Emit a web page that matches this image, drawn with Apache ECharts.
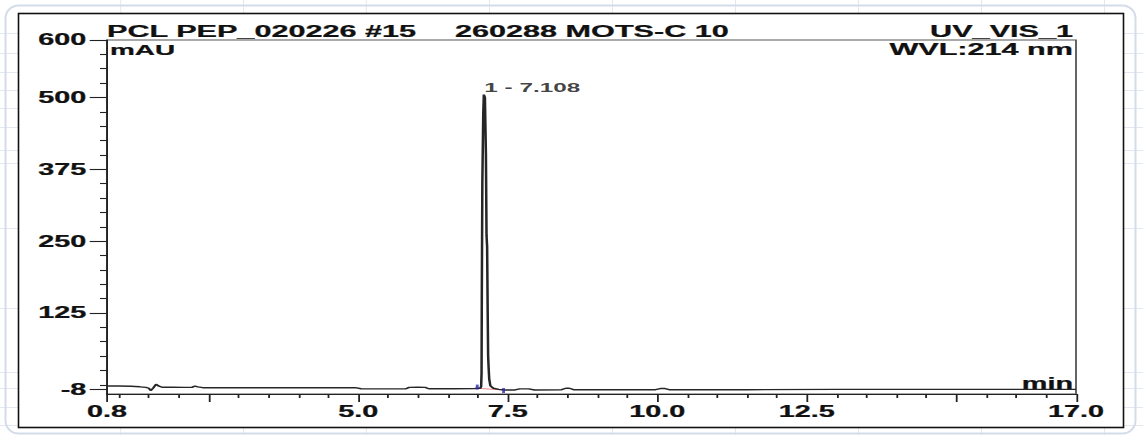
<!DOCTYPE html>
<html>
<head>
<meta charset="utf-8">
<script src="https://cdn.jsdelivr.net/npm/echarts@6/dist/echarts.min.js"></script>
<style>
  html, body { margin: 0; padding: 0; background: #ffffff; }
  #wrap { position: relative; width: 1143px; height: 435px; overflow: hidden; }
  #bg { position: absolute; left: 0; top: 0; }
  #chart { position: absolute; left: 0; top: 0; width: 635px; height: 435px; transform: scaleX(1.8); transform-origin: 0 0; }
</style>
</head>
<body>
<div id="wrap">
<svg id="bg" width="1143" height="435"></svg>
<div id="chart"></div>
</div>
<script>
// ---- data ----
const titleLeft = 'PCL PEP_020226 #15';
const titleMid = '260288 MOTS-C 10';
const titleRight = 'UV_VIS_1';
const wavelengthText = 'WVL:214 nm';
const yUnit = 'mAU';
const xUnit = 'min';

const xMin = 0.8, xMax = 17.0;
const yMin = -16, yMax = 600;
const xMajorTicks = [0.8, 2.5, 5.0, 7.5, 10.0, 12.5, 15.0, 17.0];
const xLabelValues = [0.8, 5.0, 7.5, 10.0, 12.5, 17.0];
const xMinorTicks = [1.0, 1.5, 2.0, 3.0, 3.5, 4.0, 4.5, 5.5, 6.0, 6.5, 7.0, 8.0, 8.5, 9.0, 9.5,
                     10.5, 11.0, 11.5, 12.0, 13.0, 13.5, 14.0, 14.5, 15.5, 16.0, 16.5];
const yLabelValues = [-8, 125, 250, 375, 500, 600];
const yMinorTicks = [0, 25, 50, 75, 100, 150, 175, 200, 225, 275, 300, 325, 350,
                     400, 425, 450, 475, 525, 550, 575];

// chromatogram trace: [time (min), signal (mAU)]
const trace = [
  [0.80, -2], [1.00, -2.2], [1.20, -2.5], [1.35, -3.5], [1.45, -4.5], [1.50, -6],
  [1.53, -10], [1.57, -6], [1.62, 1], [1.66, -2], [1.72, -4.3], [1.90, -4.3],
  [2.10, -4.5], [2.22, -4.5], [2.27, -2.2], [2.32, -3.5], [2.40, -5], [3.00, -5],
  [4.00, -5], [4.95, -5], [5.05, -6.8], [5.50, -7], [5.80, -7], [5.85, -4.5],
  [6.00, -4.3], [6.12, -4.5], [6.18, -6.8], [6.60, -6.8], [6.95, -6.5], [7.00, -6],
  [7.040, -6], [7.055, -3], [7.062, 20], [7.066, 150], [7.075, 350], [7.090, 470],
  [7.100, 505], [7.118, 500], [7.135, 400], [7.145, 260], [7.155, 240], [7.165, 120],
  [7.172, 50], [7.180, 30], [7.190, 10], [7.210, -2], [7.260, -6], [7.35, -8],
  [7.45, -9], [7.62, -9], [7.70, -7], [7.85, -7], [7.95, -9], [8.40, -8.5],
  [8.47, -6], [8.53, -6], [8.60, -8.5], [9.20, -8.5], [9.97, -8.5], [10.05, -6.5],
  [10.13, -6.5], [10.20, -8.5], [11.50, -8.5], [13.00, -8], [15.00, -8], [17.00, -8]
];

// peak annotation and integration baseline
const peakPoint = [7.108, 505];
const peakLabel = '1 - 7.108';
const integrationBaseline = [[6.99, -6], [7.43, -9]];
const integrationMarkers = [[6.99, -4], [7.43, -10]];

// ---- background page (decorative, not data) ----
(function drawBackground() {
  const ns = 'http://www.w3.org/2000/svg';
  const svg = document.getElementById('bg');
  const gridX = [120.7, 243.5, 366.3, 489.5, 612.5, 735.5, 858.5, 981.5, 1104.5];
  const gridY = [33, 53, 72, 90, 108, 127, 150, 163, 228, 308, 372, 388, 407, 425];
  function el(name, attrs) {
    const e = document.createElementNS(ns, name);
    for (const k in attrs) e.setAttribute(k, attrs[k]);
    svg.appendChild(e);
    return e;
  }
  gridX.forEach(x => el('line', {x1: x, y1: 0, x2: x, y2: 435, stroke: '#e3e8f0', 'stroke-width': 1}));
  gridY.forEach(y => el('line', {x1: 0, y1: y + 0.5, x2: 1143, y2: y + 0.5, stroke: '#e3e8f0', 'stroke-width': 1}));
  el('rect', {x: 5.5, y: 5.5, width: 1130, height: 428, rx: 13, ry: 13, fill: 'none', stroke: '#d4dcea', 'stroke-width': 2});
  el('rect', {x: 18.5, y: 13.5, width: 1105, height: 414, fill: '#ffffff', stroke: '#111111', 'stroke-width': 1.6});
})();

// ---- chart ----
const SX = 1.8; // horizontal stretch of the reference
const FONT = 'Liberation Sans';
const INK = '#111111';
const chart = echarts.init(document.getElementById('chart'), null, {renderer: 'svg'});

const gridBox = {left: 107 / SX, right: 635 - 1076 / SX, top: 40, bottom: 41};
const labelFont = {fontFamily: FONT, fontWeight: 'bold', color: INK, textBorderColor: INK, textBorderWidth: 0.25};
const textStyle = (text, size, align) => ({
  text: text, fontSize: size, fontFamily: FONT, fontWeight: 'bold', align: align,
  verticalAlign: 'middle', fill: INK, stroke: INK, lineWidth: 0.25
});

const option = {
  animation: false,
  grid: [
    Object.assign({show: true, borderColor: '#555555', borderWidth: 1, backgroundColor: 'transparent'}, gridBox),
    Object.assign({show: false}, gridBox)
  ],
  xAxis: [
    {
      gridIndex: 0, type: 'value', min: xMin, max: xMax,
      axisLine: {show: true, onZero: false, lineStyle: {color: '#222222', width: 1.2}},
      axisTick: {show: true, customValues: xMajorTicks, length: 8, lineStyle: {color: '#222222', width: 1}},
      axisLabel: Object.assign({customValues: xLabelValues, formatter: v => Number(v).toFixed(1), margin: 10, fontSize: 16}, labelFont),
      splitLine: {show: false}
    },
    {
      gridIndex: 1, type: 'value', min: xMin, max: xMax,
      axisLine: {show: false, onZero: false},
      axisTick: {show: true, customValues: xMinorTicks, length: 4, lineStyle: {color: '#222222', width: 1}},
      axisLabel: {show: false},
      splitLine: {show: false}
    }
  ],
  yAxis: [
    {
      gridIndex: 0, type: 'value', min: yMin, max: yMax, position: 'left',
      axisLine: {show: true, onZero: false, lineStyle: {color: '#222222', width: 1}},
      axisTick: {show: true, customValues: yLabelValues, length: 9.6, lineStyle: {color: '#222222', width: 1.1}},
      axisLabel: Object.assign({customValues: yLabelValues, formatter: v => String(v), margin: 11.5, fontSize: 16}, labelFont),
      splitLine: {show: false}
    },
    {
      gridIndex: 1, type: 'value', min: yMin, max: yMax, position: 'left',
      axisLine: {show: false, onZero: false},
      axisTick: {show: true, customValues: yMinorTicks, length: 3.9, lineStyle: {color: '#222222', width: 1.1}},
      axisLabel: {show: false},
      splitLine: {show: false}
    }
  ],
  graphic: [
    {type: 'text', x: 107 / SX, y: 31, silent: true, style: textStyle(titleLeft, 17, 'left')},
    {type: 'text', x: 455 / SX, y: 31, silent: true, style: textStyle(titleMid, 17, 'left')},
    {type: 'text', x: 1073 / SX, y: 31, silent: true, style: textStyle(titleRight, 17, 'right')},
    {type: 'text', x: 1073 / SX, y: 49, silent: true, style: textStyle(wavelengthText, 17, 'right')},
    {type: 'text', x: 110 / SX, y: 49.5, silent: true, style: textStyle(yUnit, 15.5, 'left')},
    {type: 'text', x: 1073 / SX, y: 384, silent: true, style: textStyle(xUnit, 16, 'right')}
  ],
  series: [
    {
      name: 'UV_VIS_1', type: 'line', xAxisIndex: 0, yAxisIndex: 0,
      data: trace, showSymbol: false, symbol: 'none', smooth: false,
      lineStyle: {color: '#262626', width: 1.4}, silent: true, z: 3
    },
    {
      name: 'baseline', type: 'line', xAxisIndex: 0, yAxisIndex: 0,
      data: integrationBaseline, showSymbol: false, symbol: 'none',
      lineStyle: {color: '#ef8a8a', width: 1.2}, silent: true, z: 2
    },
    {
      name: 'markers', type: 'scatter', xAxisIndex: 0, yAxisIndex: 0,
      data: integrationMarkers, symbol: 'rect', symbolSize: [1.6, 5],
      itemStyle: {color: '#2a2aa8'}, silent: true, z: 4
    },
    {
      name: 'peak', type: 'scatter', xAxisIndex: 0, yAxisIndex: 0,
      data: [peakPoint], symbolSize: 0, silent: true, z: 5,
      label: {
        show: true, position: 'top', distance: 7.5, align: 'left', verticalAlign: 'middle',
        formatter: peakLabel, fontSize: 13.5, fontFamily: FONT, fontWeight: 'bold', color: INK
      }
    }
  ]
};
chart.setOption(option);
</script>
</body>
</html>
